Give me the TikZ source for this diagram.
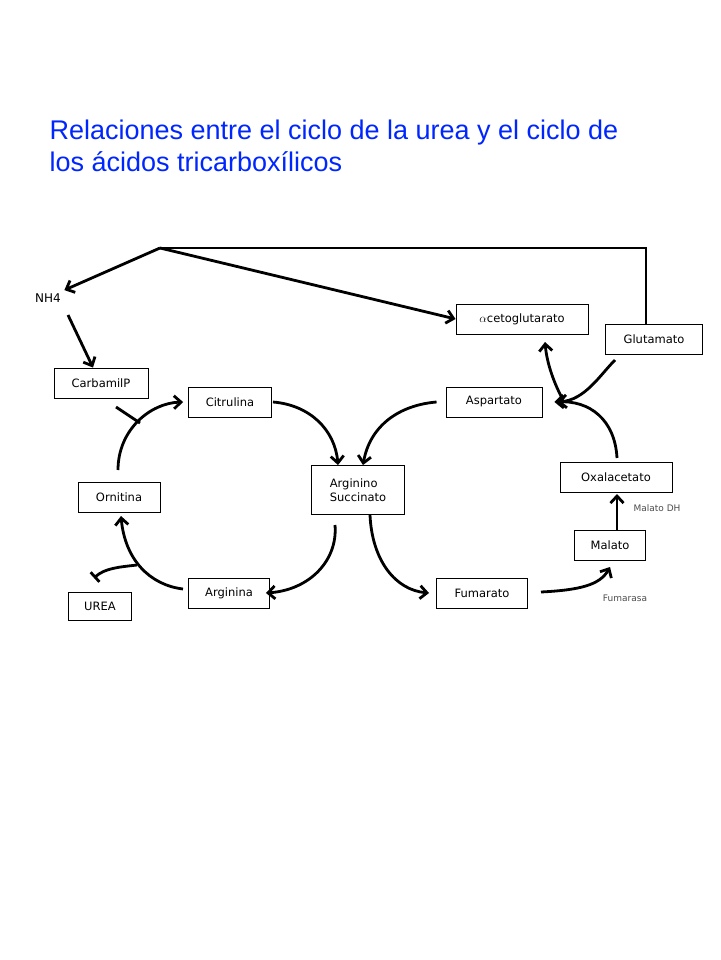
\documentclass[tikz,border=0pt]{standalone}
\usepackage{fontspec}
\setmainfont{Liberation Sans}
\newfontfamily\boxfont{DejaVu Sans}
\usetikzlibrary{arrows.meta}

\tikzset{
	box/.style = {draw, line width=0.9pt, font=\boxfont\fontsize{11.5}{14}\selectfont, inner sep=0pt, minimum height=30pt},
	flow/.style = {line width=2.8pt, -{Straight Barb[length=7pt,width=13pt]}},
	plain/.style = {line width=2.8pt},
	note/.style = {font=\boxfont\fontsize{9}{11}\selectfont, text=black!70}
}

\begin{document}
\begin{tikzpicture}[x=1pt, y=-1pt]
	\useasboundingbox (0,0) rectangle (720,960);
	
	\node [anchor=west, text=blue!85!cyan, font=\fontsize{27}{32}\selectfont, align=left] (title) at (46,146)
		{Relaciones entre el ciclo de la urea y el ciclo de\\los ácidos tricarboxílicos};
	
	\node [font=\boxfont\fontsize{12}{14}\selectfont] (nh4) at (48,298) {NH4};
	\node [box, minimum width=94pt] (carb) at (101,383) {CarbamilP};
	\node [box, minimum width=83pt] (citr) at (230,402) {Citrulina};
	\node [box, minimum width=82pt] (orn) at (119,497) {Ornitina};
	\node [box, minimum width=63pt, minimum height=28pt] (urea) at (100,606) {UREA};
	\node [box, minimum width=81pt] (argi) at (229,593) {Arginina};
	\node [box, minimum width=93pt, minimum height=49pt, align=left] (asucc) at (358,490) {Arginino\\Succinato};
	\node [box, minimum width=91pt] (fum) at (482,593) {Fumarato};
	\node [box, minimum width=71pt] (mal) at (610,545) {Malato};
	\node [box, minimum width=112pt] (oxa) at (616,477) {Oxalacetato};
	\node [box, minimum width=96pt] (asp) at (494,402) {Aspartato};
	\node [box, minimum width=132pt] (akg) at (522,319) {$\alpha$cetoglutarato};
	\node [box, minimum width=97pt] (glu) at (654,339) {Glutamato};
	
	\node [note] (mdh) at (657,508) {Malato DH};
	\node [note] (fumase) at (625,598) {Fumarasa};
	
	% glutamato -> NH4 + acetoglutarato
	\coordinate (split) at (160,248);
	\coordinate (glutop) at (646,324);
	\draw [plain] (glutop) |- (split);
	\draw [flow] (split) -- (nh4.north east);
	\draw [flow] (split) -- (akg.west);
	\draw [flow] (68,315) -- ([xshift=-8pt]carb.north);
	
	% ciclo de la urea
	\draw [flow] (118,470) .. controls (118,430) and (150,403) .. ([xshift=-5pt]citr.west);
	\draw [plain] (116,407) -- (140,423);
	\draw [flow] ([xshift=1pt]citr.east) .. controls (310,405) and (335,430) .. ([xshift=-20pt]asucc.north);
	\draw [flow] ([xshift=-9pt]asp.west) .. controls (400,405) and (370,425) .. ([xshift=5pt]asucc.north);
	\draw [flow] (335,525) .. controls (338,560) and (310,590) .. ([xshift=-4pt]argi.east);
	\draw [flow] (370,515) .. controls (372,560) and (395,590) .. ([xshift=-7pt]fum.west);
	\draw [flow] (183,589) .. controls (150,585) and (125,560) .. (121,516);
	\draw [line width=2.8pt, -{Bar[width=13pt, sep=0pt]}] (137,565) .. controls (120,567) and (105,568) .. (94,578);
	
	% ciclo de los acidos tricarboxilicos
	\draw [flow] (541,592) .. controls (580,590) and (600,585) .. (610,567);
	\draw [flow] (617,530) -- (617,494);
	\draw [flow] (617,458) .. controls (615,420) and (590,400) .. ([xshift=12pt]asp.east);
	\draw [flow] (615,360) .. controls (600,375) and (585,400) .. ([xshift=15pt]asp.east);
	\draw [flow] (563,400) .. controls (555,385) and (547,365) .. (545,342);
\end{tikzpicture}
\end{document}
